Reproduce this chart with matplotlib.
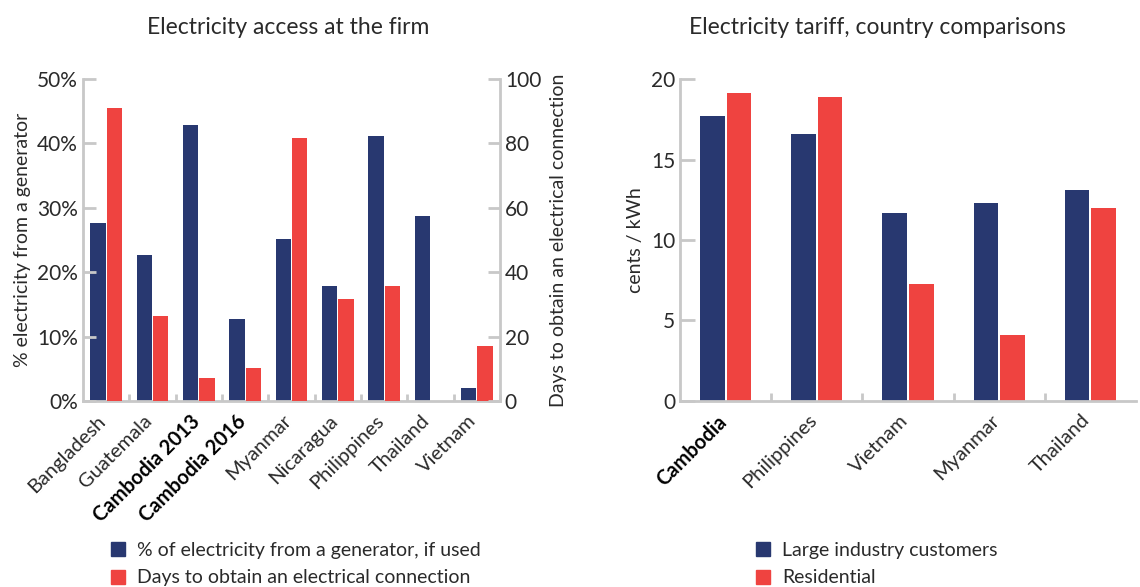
import numpy as np
import matplotlib.pyplot as plt
from matplotlib.patches import Patch
from matplotlib.ticker import FuncFormatter

plt.rcParams['font.family'] = ['Lato', 'DejaVu Sans']

# left chart data
firm_countries = ['Bangladesh', 'Guatemala', 'Cambodia 2013', 'Cambodia 2016', 'Myanmar',
                  'Nicaragua', 'Philippines', 'Thailand', 'Vietnam']
generator_pct = [27.6, 22.7, 42.9, 12.7, 25.1, 17.8, 41.2, 28.7, 2.0]
days_connection = [91.1, 26.3, 7.1, 10.2, 81.7, 31.6, 35.7, 0.0, 17.0]

# right chart data
tariff_countries = ['Cambodia', 'Philippines', 'Vietnam', 'Myanmar', 'Thailand']
industry_tariff = [17.7, 16.6, 11.7, 12.3, 13.1]
residential_tariff = [19.15, 18.9, 7.25, 4.1, 12.0]

navy = '#283870'
red = '#ef4340'
spine_c = '#c8c8c8'
txt_c = '#2a2a2a'

fig = plt.figure(figsize=(11.4, 5.87), dpi=100)

def style_axes(ax, sides):
    for s in ['top', 'right', 'left', 'bottom']:
        ax.spines[s].set_visible(s in sides)
        ax.spines[s].set_color(spine_c)
        ax.spines[s].set_linewidth(2.0)
    ax.tick_params(colors=spine_c, labelcolor=txt_c, labelsize=15)

# ---------------- left chart ----------------
ax1 = fig.add_axes([0.0728, 0.3169, 0.3658, 0.5485])
x1 = np.arange(len(firm_countries))
w1 = 0.33
ax1.bar(x1 - w1 / 2 - 0.01, generator_pct, w1, color=navy)
ax1.set_xlim(-0.5, len(firm_countries) - 0.5)
ax1.set_ylim(0, 50)
ax1.set_yticks([0, 10, 20, 30, 40, 50])
ax1.yaxis.set_major_formatter(FuncFormatter(lambda v, p: '%d%%' % v))
style_axes(ax1, ['left', 'bottom'])
ax1.tick_params(axis='y', direction='in', length=9, width=2)
ax1.set_xticks(x1 + 0.5, minor=False)
ax1.tick_params(axis='x', direction='in', length=5, width=2, labelbottom=False)
for i, name in enumerate(firm_countries):
    bold = 'Cambodia' in name
    ax1.text(i - 0.2, -1.7, name, rotation=45, ha='right', va='top', rotation_mode='anchor',
             fontsize=14.5, color='black' if bold else txt_c,
             fontweight='bold' if bold else 'normal')
ax1.set_ylabel('% electricity from a generator', fontsize=14, color=txt_c)
ax1.yaxis.set_label_coords(-0.125, 0.5)

ax1b = ax1.twinx()
ax1b.bar(x1 + w1 / 2 + 0.01, days_connection, w1, color=red)
ax1b.set_ylim(0, 100)
ax1b.set_yticks([0, 20, 40, 60, 80, 100])
style_axes(ax1b, ['right'])
ax1b.tick_params(axis='y', direction='in', length=9, width=2)
ax1b.set_ylabel('Days to obtain an electrical connection', fontsize=14, color=txt_c)
ax1b.yaxis.set_label_coords(1.12, 0.5)
fig.text(0.253, 0.954, 'Electricity access at the firm', fontsize=16.5, color=txt_c,
         ha='center', va='center')

# ---------------- right chart ----------------
ax2 = fig.add_axes([0.5965, 0.3169, 0.40, 0.5485])
x2 = np.arange(len(tariff_countries))
w2 = 0.27
ax2.bar(x2 - w2 / 2 - 0.01, industry_tariff, w2, color=navy)
ax2.bar(x2 + w2 / 2 + 0.01, residential_tariff, w2, color=red)
ax2.set_xlim(-0.5, len(tariff_countries) - 0.5)
ax2.set_ylim(0, 20)
ax2.set_yticks([0, 5, 10, 15, 20])
style_axes(ax2, ['left', 'bottom'])
ax2.tick_params(axis='y', direction='in', length=11, width=2)
ax2.set_xticks(x2[:-1] + 0.5)
ax2.tick_params(axis='x', direction='in', length=6, width=2, labelbottom=False)
for i, name in enumerate(tariff_countries):
    bold = name == 'Cambodia'
    ax2.text(i - 0.1, -0.65, name, rotation=45, ha='right', va='top', rotation_mode='anchor',
             fontsize=14.5, color='black' if bold else txt_c,
             fontweight='bold' if bold else 'normal')
ax2.set_ylabel('cents / kWh', fontsize=14, color=txt_c)
ax2.yaxis.set_label_coords(-0.078, 0.5)
fig.text(0.77, 0.954, 'Electricity tariff, country comparisons', fontsize=16.5, color=txt_c,
         ha='center', va='center')

# legends
leg_kw = dict(loc='upper left', frameon=False, fontsize=14, handlelength=0.75, handleheight=0.75,
              handletextpad=0.6, labelspacing=0.55, borderaxespad=0, borderpad=0)
leg1 = fig.legend([Patch(color=navy), Patch(color=red)],
                  ['% of electricity from a generator, if used', 'Days to obtain an electrical connection'],
                  bbox_to_anchor=(0.097, 0.077), **leg_kw)
leg2 = fig.legend([Patch(color=navy), Patch(color=red)],
                  ['Large industry customers', 'Residential'],
                  bbox_to_anchor=(0.663, 0.077), **leg_kw)
for leg in (leg1, leg2):
    for t in leg.get_texts():
        t.set_color(txt_c)

fig.savefig('out.png', dpi=100)
